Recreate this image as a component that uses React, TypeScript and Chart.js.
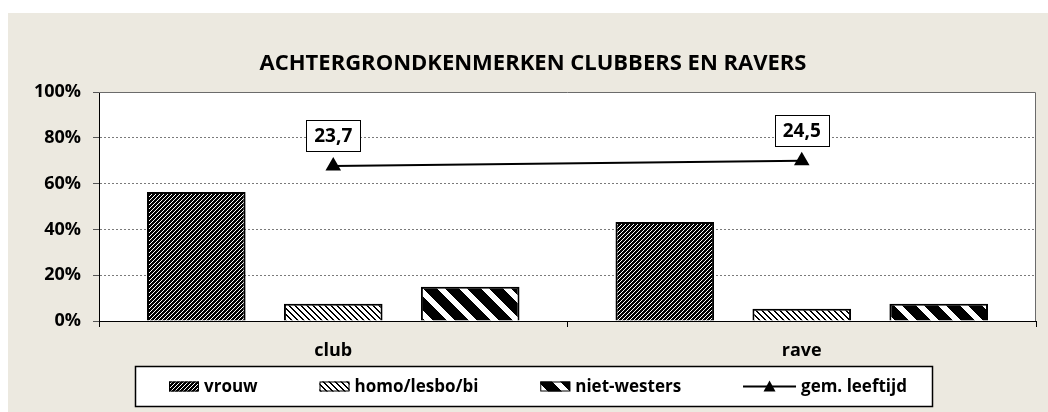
import React, { useEffect, useRef } from 'react';
import { Chart, registerables } from 'chart.js';

Chart.register(...registerables);

const title = 'ACHTERGRONDKENMERKEN CLUBBERS EN RAVERS';
const categories = ['club', 'rave'];
const seriesNames = ['vrouw', 'homo/lesbo/bi', 'niet-westers', 'gem. leeftijd'];
const vrouw = [0.563, 0.432];
const homo = [0.075, 0.053];
const nietWesters = [0.15, 0.075];
const leeftijd = [23.7, 24.5];
const yTickValues = [0, 0.2, 0.4, 0.6, 0.8, 1];

const FONT = '"Open Sans", "DejaVu Sans", sans-serif';

function makePattern(ctx: CanvasRenderingContext2D, size: number, fn: (x: number, y: number) => boolean, onColor: number, offColor: number) {
  const c = document.createElement('canvas');
  c.width = size;
  c.height = size;
  const cx = c.getContext('2d')!;
  const img = cx.createImageData(size, size);
  for (let y = 0; y < size; y++) {
    for (let x = 0; x < size; x++) {
      const v = fn(x, y) ? onColor : offColor;
      const i = (y * size + x) * 4;
      img.data[i] = v;
      img.data[i + 1] = v;
      img.data[i + 2] = v;
      img.data[i + 3] = 255;
    }
  }
  cx.putImageData(img, 0, 0);
  return ctx.createPattern(c, 'repeat')!;
}

const mod = (a: number, n: number) => ((a % n) + n) % n;

export default function App() {
  const ref = useRef<HTMLCanvasElement | null>(null);

  useEffect(() => {
    const canvas = ref.current!;
    const ctx = canvas.getContext('2d')!;
    // vrouw: black with thin white "/" lines
    const pV = makePattern(ctx, 4, (x, y) => mod(x + y, 4) === 0, 255, 0);
    // homo: white with black "\" lines
    const pH = makePattern(ctx, 6, (x, y) => mod(x - y, 6) < 2, 0, 255);
    // niet-westers: black with wide white "\" stripes
    const pN = makePattern(ctx, 22, (x, y) => mod(x - y, 22) < 8, 255, 0);
    const patterns = [pV, pH, pN];

    const bgPlugin = {
      id: 'plotBg',
      beforeDraw(chart: any) {
        const { ctx: c, chartArea: a } = chart;
        c.save();
        c.fillStyle = '#ffffff';
        c.fillRect(a.left, a.top, a.right - a.left, a.bottom - a.top);
        c.restore();
      },
    };

    const decorPlugin = {
      id: 'decor',
      afterDatasetsDraw(chart: any) {
        const c = chart.ctx as CanvasRenderingContext2D;
        const meta = chart.getDatasetMeta(3);
        c.save();
        c.font = `bold 19px ${FONT}`;
        c.textAlign = 'center';
        c.textBaseline = 'middle';
        meta.data.forEach((pt: any, i: number) => {
          const txt = leeftijd[i].toFixed(1).replace('.', ',');
          const w = 54;
          const h = 31;
          const bx = Math.round(pt.x - w / 2) + 0.5;
          const by = Math.round(pt.y - 15 - h) + 0.5;
          c.fillStyle = '#fff';
          c.fillRect(bx, by, w, h);
          c.strokeStyle = '#000';
          c.lineWidth = 1;
          c.strokeRect(bx, by, w, h);
          c.fillStyle = '#000';
          c.fillText(txt, pt.x, by + h / 2 + 1);
        });
        c.restore();
      },
      afterDraw(chart: any) {
        const c = chart.ctx as CanvasRenderingContext2D;
        const a = chart.chartArea;
        c.save();
        // plot border top / right
        c.strokeStyle = '#6b6b6b';
        c.lineWidth = 1;
        c.beginPath();
        c.moveTo(a.left, a.top + 0.5);
        c.lineTo(a.right - 0.5, a.top + 0.5);
        c.lineTo(a.right - 0.5, a.bottom);
        c.stroke();

        // title
        c.fillStyle = '#000';
        c.font = `bold 22px ${FONT}`;
        c.textAlign = 'center';
        c.textBaseline = 'middle';
        c.fillText(title, 525, 51);

        // legend
        const lx0 = 127, lx1 = 925, ly0 = 353, ly1 = 394;
        c.fillStyle = '#fff';
        c.fillRect(lx0, ly0, lx1 - lx0, ly1 - ly0);
        c.strokeStyle = '#000';
        c.lineWidth = 1.5;
        c.strokeRect(lx0 + 0.5, ly0 + 0.5, lx1 - lx0 - 1, ly1 - ly0 - 1);
        c.font = `bold 17px ${FONT}`;
        c.textAlign = 'left';
        const cy = (ly0 + ly1) / 2;
        const swW = 30, swH = 10, lineW = 53, gapT = 5;
        const keyW = [swW, swW, swW, lineW];
        const widths = seriesNames.map((n, i) => keyW[i] + gapT + c.measureText(n).width);
        const start = 161, end = 899;
        const total = widths.reduce((s, v) => s + v, 0);
        const gap = (end - start - total) / 3;
        let x = start;
        seriesNames.forEach((n, i) => {
          if (i < 3) {
            c.fillStyle = patterns[i];
            c.fillRect(x, cy - swH / 2, swW, swH);
            c.strokeStyle = '#000';
            c.lineWidth = 1;
            c.strokeRect(x + 0.5, cy - swH / 2 + 0.5, swW - 1, swH - 1);
          } else {
            c.strokeStyle = '#000';
            c.lineWidth = 2;
            c.beginPath();
            c.moveTo(x, cy);
            c.lineTo(x + lineW, cy);
            c.stroke();
            const tx = x + lineW / 2;
            c.fillStyle = '#000';
            c.beginPath();
            c.moveTo(tx, cy - 6);
            c.lineTo(tx + 6, cy + 5);
            c.lineTo(tx - 6, cy + 5);
            c.closePath();
            c.fill();
          }
          c.fillStyle = '#000';
          c.textBaseline = 'middle';
          c.fillText(n, x + keyW[i] + gapT, cy + 1);
          x += widths[i] + gap;
        });
        c.restore();
      },
    };

    const chart = new Chart(canvas, {
      type: 'bar',
      data: {
        labels: categories,
        datasets: [
          { label: seriesNames[0], data: vrouw, backgroundColor: pV as any, borderColor: '#000', borderWidth: 2, order: 1 },
          { label: seriesNames[1], data: homo, backgroundColor: pH as any, borderColor: '#000', borderWidth: 2, order: 1 },
          { label: seriesNames[2], data: nietWesters, backgroundColor: pN as any, borderColor: '#000', borderWidth: 2, order: 1 },
          {
            type: 'line',
            label: seriesNames[3],
            data: leeftijd,
            yAxisID: 'y1',
            borderColor: '#000',
            borderWidth: 2,
            pointStyle: 'triangle',
            pointRadius: 7,
            pointBackgroundColor: '#000',
            pointBorderColor: '#000',
            order: 0,
          } as any,
        ],
      },
      options: {
        animation: false,
        responsive: false,
        layout: { padding: { left: 0, right: 12, top: 79, bottom: 51 } },
        plugins: { legend: { display: false }, title: { display: false }, tooltip: { enabled: false } },
        datasets: { bar: { categoryPercentage: 0.877, barPercentage: 0.72 } },
        scales: {
          x: {
            grid: { display: true, drawOnChartArea: false, offset: true, tickLength: 6, tickColor: '#000', color: '#000' },
            border: { color: '#000', width: 1 },
            ticks: { color: '#000', font: { family: FONT, size: 18, weight: 'bold' }, padding: 13 },
            afterFit: (s: any) => { s.height = 40; },
          },
          y: {
            min: 0,
            max: 1,
            afterBuildTicks: (s: any) => { s.ticks = yTickValues.map((v) => ({ value: v })); },
            ticks: {
              color: '#000',
              font: { family: FONT, size: 18, weight: 'bold' },
              padding: 12,
              callback: (v: any) => Math.round(Number(v) * 100) + '%',
            },
            grid: { color: '#7a7a7a', tickLength: 6, tickColor: '#555' },
            border: { color: '#000', width: 1, dash: [2, 2] },
            afterFit: (s: any) => { s.width = 91; },
          },
          y1: { min: 0, max: 35, display: false, position: 'right' },
        },
      } as any,
      plugins: [bgPlugin, decorPlugin],
    });
    return () => chart.destroy();
  }, []);

  return (
    <div style={{ position: 'fixed', left: 8, top: 13, width: 1040, height: 399, background: '#ECE9E0' }}>
      <canvas ref={ref} width={1040} height={399} style={{ display: 'block' }} />
    </div>
  );
}
